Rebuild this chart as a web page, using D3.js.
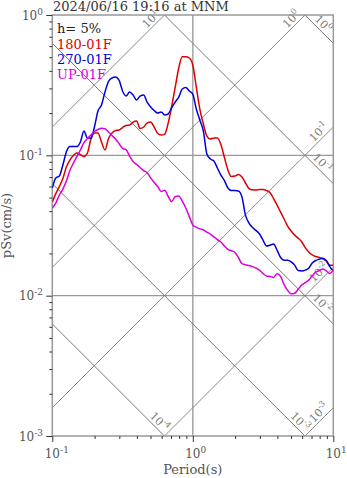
<!DOCTYPE html>
<html>
<head>
<meta charset="utf-8">
<script src="https://cdn.jsdelivr.net/npm/d3@7"></script>
<style>
   body { margin: 0; background: #fff; }
   svg { display: block; font-family: "DejaVu Serif", serif; }
</style>
</head>
<body>
<svg id="chart" width="347" height="478"></svg>
<script>
var title = "2024/06/16 19:16 at MNM";
var damping = "h= 5%";
var seriesNames = ["180-01F", "270-01F", "UP-01F"];
var seriesColors = ["#dd0000", "#0000dd", "#dd00dd"];

// period (s)
var periods = [0.1, 0.1059, 0.1122, 0.1189, 0.1259, 0.1334, 0.1413, 0.1496, 0.1585, 0.1679,
   0.1778, 0.1884, 0.1995, 0.2113, 0.2239, 0.2371, 0.2512, 0.2661, 0.2818, 0.2985,
   0.3162, 0.3350, 0.3548, 0.3758, 0.3981, 0.4217, 0.4467, 0.4732, 0.5012, 0.5309,
   0.5623, 0.5957, 0.6310, 0.6683, 0.7079, 0.7499, 0.7943, 0.8414, 0.8913, 0.9441,
   1.0, 1.059, 1.122, 1.189, 1.259, 1.334, 1.413, 1.496, 1.585, 1.679,
   1.778, 1.884, 1.995, 2.113, 2.239, 2.371, 2.512, 2.661, 2.818, 2.985,
   3.162, 3.350, 3.548, 3.758, 3.981, 4.217, 4.467, 4.732, 5.012, 5.309,
   5.623, 5.957, 6.310, 6.683, 7.079, 7.499, 7.943, 8.414, 8.913, 9.441,
   10.0];

// pSv (cm/s)
var sv180 = [0.0465, 0.0534, 0.0599, 0.0683, 0.0825, 0.0926, 0.0997, 0.1039, 0.1013, 0.0980,
   0.1039, 0.1307, 0.1442, 0.1442, 0.1244, 0.1091, 0.1318, 0.1442, 0.1502, 0.1515,
   0.1578, 0.1631, 0.1644, 0.1727, 0.1756, 0.1552, 0.1591, 0.1699, 0.1727, 0.1591,
   0.1430, 0.1395, 0.1418, 0.1699, 0.2246, 0.3068, 0.4190, 0.5044, 0.5044, 0.4938,
   0.4402, 0.3068, 0.2138, 0.1671, 0.1373, 0.1307, 0.1328, 0.1328, 0.1194, 0.0965,
   0.0786, 0.0706, 0.0712, 0.0730, 0.0700, 0.0635, 0.0580, 0.0568, 0.0566, 0.0570,
   0.0570, 0.0561, 0.0541, 0.0492, 0.0442, 0.0394, 0.0352, 0.0313, 0.0289, 0.0270,
   0.0257, 0.0242, 0.0220, 0.0205, 0.0195, 0.0190, 0.0187, 0.0183, 0.0176, 0.0165,
   0.0165];

var sv270 = [0.0585, 0.0689, 0.0712, 0.0853, 0.1056, 0.1155, 0.1155, 0.1155, 0.1244, 0.1490,
   0.1328, 0.1328, 0.1591, 0.2069, 0.2283, 0.2826, 0.3358, 0.3556, 0.3615, 0.3441,
   0.2873, 0.2646, 0.2826, 0.2690, 0.2478, 0.2646, 0.2690, 0.2398, 0.2209, 0.2086,
   0.2002, 0.2035, 0.1938, 0.1970, 0.2191, 0.2398, 0.2603, 0.2969, 0.3043, 0.2873,
   0.2735, 0.2138, 0.1785, 0.1490, 0.1022, 0.0941, 0.0911, 0.0812, 0.0724, 0.0661,
   0.0585, 0.0561, 0.0561, 0.0557, 0.0504, 0.0375, 0.0329, 0.0306, 0.0291, 0.0275,
   0.0249, 0.0226, 0.0229, 0.0233, 0.0211, 0.0187, 0.0179, 0.0179, 0.0174, 0.0165,
   0.0151, 0.0150, 0.0152, 0.0157, 0.0171, 0.0178, 0.0182, 0.0185, 0.0178, 0.0161,
   0.0150];

var svUp = [0.0421, 0.0457, 0.0521, 0.0575, 0.0656, 0.0779, 0.0881, 0.0980, 0.1091, 0.1234,
   0.1318, 0.1395, 0.1478, 0.1527, 0.1557, 0.1548, 0.1466, 0.1384, 0.1307, 0.1214,
   0.1122, 0.1100, 0.0989, 0.0903, 0.0860, 0.0819, 0.0779, 0.0752, 0.0692, 0.0640,
   0.0599, 0.0552, 0.0564, 0.0509, 0.0468, 0.0509, 0.0513, 0.0472, 0.0421, 0.0366,
   0.0319, 0.0307, 0.0299, 0.0294, 0.0284, 0.0274, 0.0262, 0.0251, 0.0241, 0.0226,
   0.0214, 0.0209, 0.0203, 0.0187, 0.0169, 0.0166, 0.0164, 0.0161, 0.0157, 0.0152,
   0.0144, 0.0138, 0.0137, 0.0135, 0.0143, 0.0137, 0.0120, 0.0109, 0.0103, 0.0104,
   0.0111, 0.0119, 0.0124, 0.0129, 0.0138, 0.0147, 0.0151, 0.0155, 0.0150, 0.0144,
   0.0152];

// tripartite guide lines: pseudo acceleration (cm/s2) and displacement (cm)
var accelLines = [10, 1, 0.1, 0.01, 0.001];
var dispLines = [1, 0.1, 0.01, 0.001, 0.0001];

var xTicks = [0.1, 1, 10];
var yTicks = [0.001, 0.01, 0.1, 1];
var gridX = [1];
var gridY = [0.01, 0.1];

var TWO_PI = 2 * Math.PI;

var svg = d3.select("#chart");
var x = d3.scaleLog().domain([0.1, 10]).range([52.3, 333.3]);
var y = d3.scaleLog().domain([0.001, 1]).range([436, 15]);
var pLeft = x.range()[0], pRight = x.range()[1], pTop = y.range()[1], pBottom = y.range()[0];

svg.append("defs").append("clipPath").attr("id", "plot-clip")
   .append("rect")
   .attr("x", pLeft).attr("y", pTop)
   .attr("width", pRight - pLeft).attr("height", pBottom - pTop);

function expo(v) { return String(Math.round(Math.log10(v))); }

// power of ten text: "10" plus raised exponent
function powText(sel, v, small) {
   sel.append("tspan").text("10");
   sel.append("tspan").attr("dy", -5).style("font-size", small).text(expo(v));
}

var lineGen = d3.line().x(function(d) { return x(d[0]); }).y(function(d) { return y(d[1]); });

// grid
var grid = svg.append("g").attr("class", "grid");
grid.selectAll(".gx").data(gridX).enter().append("line")
   .attr("x1", function(d) { return x(d); }).attr("x2", function(d) { return x(d); })
   .attr("y1", pTop).attr("y2", pBottom)
   .attr("stroke", "#aaa").attr("stroke-width", 1.6);
grid.selectAll(".gy").data(gridY).enter().append("line")
   .attr("y1", function(d) { return y(d); }).attr("y2", function(d) { return y(d); })
   .attr("x1", pLeft).attr("x2", pRight)
   .attr("stroke", "#999").attr("stroke-width", 1.4);

// diagonal lines
var diag = svg.append("g").attr("clip-path", "url(#plot-clip)");
accelLines.forEach(function(a) {
   diag.append("path")
      .datum([[0.01, a * 0.01 / TWO_PI], [100, a * 100 / TWO_PI]])
      .attr("d", lineGen).attr("fill", "none")
      .attr("stroke", "#888").attr("stroke-width", 1);
});
dispLines.forEach(function(s) {
   diag.append("path")
      .datum([[0.01, TWO_PI * s / 0.01], [100, TWO_PI * s / 100]])
      .attr("d", lineGen).attr("fill", "none")
      .attr("stroke", "#777").attr("stroke-width", 1);
});

// diagonal labels, placed where each line leaves the plot
var dlab = svg.append("g").style("font-size", "11px").attr("fill", "#777");
accelLines.forEach(function(a) {
   var tTop = TWO_PI / a, px, py;
   if (tTop <= 10) { px = x(tTop); py = y(1); }
   else { px = x(10); py = y(a * 10 / TWO_PI); }
   var t = dlab.append("text")
      .attr("transform", "translate(" + (px - 2) + "," + (py + 2) + ") rotate(-45)")
      .attr("y", -3).attr("text-anchor", "end");
   powText(t, a, "8px");
});
dispLines.forEach(function(s) {
   var tBot = TWO_PI * s / 0.001, px, py, back;
   if (tBot <= 10) { px = x(tBot); py = y(0.001); back = 2; }
   else { px = x(10); py = y(TWO_PI * s / 10); back = 8; }
   var t = dlab.append("text")
      .attr("transform", "translate(" + (px - back) + "," + (py - back) + ") rotate(45)")
      .attr("y", -3).attr("text-anchor", "end");
   powText(t, s, "8px");
});

// frame
svg.append("rect")
   .attr("x", pLeft).attr("y", pTop)
   .attr("width", pRight - pLeft).attr("height", pBottom - pTop)
   .attr("fill", "none").attr("stroke", "#999").attr("stroke-width", 1.5);

// axes ticks
var yMinor = y.ticks().filter(function(d) { return yTicks.indexOf(d) < 0; });
var xMinor = x.ticks().filter(function(d) { return xTicks.indexOf(d) < 0; });

function styleAxis(g) {
   g.select(".domain").remove();
   g.selectAll("line").attr("stroke", "#333");
   g.selectAll("text").remove();
}

svg.append("g").attr("transform", "translate(" + pLeft + ",0)")
   .call(d3.axisLeft(y).tickValues(yMinor).tickSize(3)).call(styleAxis);
svg.append("g").attr("transform", "translate(" + pLeft + ",0)")
   .call(d3.axisLeft(y).tickValues(yTicks).tickSize(6)).call(styleAxis);
svg.append("g").attr("transform", "translate(0," + pBottom + ")")
   .call(d3.axisBottom(x).tickValues(xMinor).tickSize(3)).call(styleAxis);
svg.append("g").attr("transform", "translate(0," + pBottom + ")")
   .call(d3.axisBottom(x).tickValues(xTicks).tickSize(6)).call(styleAxis);

// tick labels
var lab = svg.append("g").style("font-size", "12px").attr("fill", "#555");
yTicks.forEach(function(v) {
   var t = lab.append("text")
      .attr("x", 43).attr("y", y(v) + 4.5)
      .attr("text-anchor", "end");
   powText(t, v, "9px");
});
xTicks.forEach(function(v) {
   lab.append("text")
      .attr("x", x(v)).attr("y", 458)
      .attr("text-anchor", "middle").text("10");
   lab.append("text")
      .attr("x", x(v) + 7.8).attr("y", 453)
      .style("font-size", "9px").text(expo(v));
});

svg.append("text")
   .attr("x", (pLeft + pRight) / 2).attr("y", 474)
   .attr("text-anchor", "middle").attr("fill", "#555")
   .style("font-size", "13px").text("Period(s)");

svg.append("text")
   .attr("transform", "translate(11," + ((pTop + pBottom) / 2) + ") rotate(-90)")
   .attr("text-anchor", "middle").attr("fill", "#555")
   .style("font-size", "13px").text("pSv(cm/s)");

// spectra
var series = [sv180, sv270, svUp];
var curve = d3.line()
   .x(function(d, i) { return x(periods[i]); })
   .y(function(d) { return y(d); })
   .curve(d3.curveMonotoneX);
var curves = svg.append("g").attr("clip-path", "url(#plot-clip)");
series.forEach(function(s, k) {
   curves.append("path").datum(s)
      .attr("d", curve).attr("fill", "none")
      .attr("stroke", seriesColors[k]).attr("stroke-width", 1.5);
});

// title and legend
svg.append("text")
   .attr("x", 53).attr("y", 11)
   .attr("fill", "#333").style("font-size", "13px")
   .text(title);

var leg = svg.append("g").style("font-size", "13px");
leg.append("text").attr("x", 57).attr("y", 33).attr("fill", "#222").text(damping);
seriesNames.forEach(function(n, k) {
   leg.append("text")
      .attr("x", 57).attr("y", 48.5 + k * 15)
      .attr("fill", seriesColors[k]).text(n);
});
</script>
</body>
</html>
